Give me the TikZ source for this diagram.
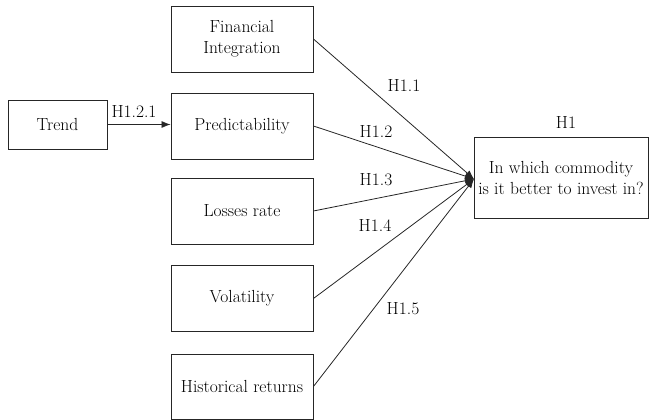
\documentclass[tikz,border=0pt]{standalone}
\usetikzlibrary{arrows.meta}
\begin{document}
\begin{tikzpicture}[x=1pt,y=-1pt,
  box/.style={draw=black!85, line width=0.9pt, minimum width=142pt, minimum height=66pt,
              align=center, inner sep=0pt, font=\rmfamily\fontsize{17.5}{21}\selectfont},
  lbl/.style={font=\rmfamily\fontsize{17.5}{21}\selectfont, inner sep=0pt},
  conn/.style={draw=black!85, line width=0.8pt, -{Latex[length=9pt,width=7pt]}}]
\useasboundingbox (0,0) rectangle (649,420);
\node[box] (fi) at (242,39) {Financial\\Integration};
\node[box] (pr) at (242,126) {Predictability};
\node[box] (lr) at (242,211) {Losses rate};
\node[box] (vo) at (242,298.5) {Volatility};
\node[box, minimum height=65pt] (hr) at (242,386.5) {Historical returns};
\node[box, minimum width=99pt, minimum height=49pt] (tr) at (57.5,124.5) {Trend};
\node[box, minimum width=174pt, minimum height=81pt] (q) at (561,177.5) {In which commodity\\is it better to invest in?};
\coordinate (tip) at (474,179);
\draw[conn] (tr.east) -- (tr.east -| pr.west);
\draw[conn] (fi.east) -- (tip);
\draw[conn] (pr.east) -- (tip);
\draw[conn] (lr.east) -- (tip);
\draw[conn] (vo.east) -- (tip);
\draw[conn] (hr.east) -- (tip);
\node[lbl] (l121) at (134,112) {H1.2.1};
\node[lbl] (l11) at (404,86) {H1.1};
\node[lbl] (l12) at (376,132) {H1.2};
\node[lbl] (l13) at (376,180) {H1.3};
\node[lbl] (l14) at (375,226) {H1.4};
\node[lbl] (l15) at (403,309) {H1.5};
\node[lbl] (l1) at (566,123) {H1};
\end{tikzpicture}
\end{document}
